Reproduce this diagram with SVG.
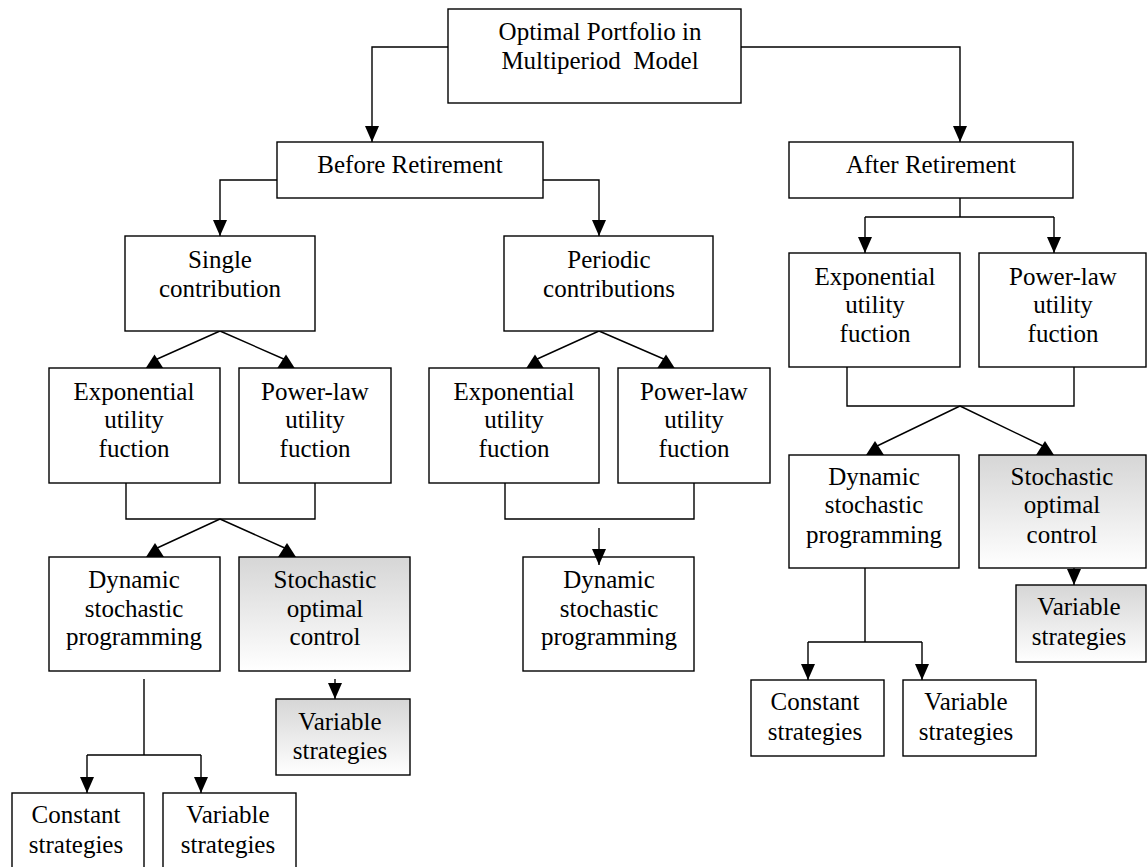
<svg xmlns="http://www.w3.org/2000/svg" width="1147" height="867" viewBox="0 0 1147 867">
<defs>
<linearGradient id="g" x1="0" y1="0" x2="0" y2="1">
<stop offset="0" stop-color="#d6d6d6"/>
<stop offset="1" stop-color="#ffffff"/>
</linearGradient>
<marker id="arr" markerUnits="userSpaceOnUse" markerWidth="17" markerHeight="16" refX="16" refY="8" orient="auto" overflow="visible">
<path d="M0,1 L16,8 L0,15 z" fill="#000"/>
</marker>
<style>
.b{fill:#fff;stroke:#000;stroke-width:1.4}
.gr{fill:url(#g);stroke:#000;stroke-width:1.4}
.c{fill:none;stroke:#000;stroke-width:1.4}
.a{marker-end:url(#arr)}
.ah{fill:#000;stroke:none}
text{font-family:'Liberation Serif','Times New Roman',Tinos,'DejaVu Serif',serif;font-size:25px;fill:#000;text-anchor:middle}
</style>
</defs>
<rect width="1147" height="867" fill="#fff"/>

<g id="connectors">
<path class="c a" d="M448,47 H372 V142"/>
<path class="c a" d="M741,47 H960 V142"/>
<path class="c a" d="M277,180 H220 V236"/>
<path class="c a" d="M543,180 H599 V236"/>
<path class="c" d="M960,198 V217 M865,217 H1054"/>
<path class="c a" d="M865,217 V253"/>
<path class="c a" d="M1054,217 V253"/>
<path class="c" d="M847,367 V406 H1074 V367"/>
<path class="c" d="M960,406 L875,447 M960,406 L1045,447"/>
<polygon class="ah" points="875,441 866,455 884,455"/>
<polygon class="ah" points="1045,441 1036,455 1054,455"/>
<path class="c a" d="M1074,568 V585"/>
<path class="c" d="M865,568 V642 M808,642 H922"/>
<path class="c a" d="M808,642 V680"/>
<path class="c a" d="M922,642 V680"/>
<path class="c" d="M220,331 L155,360 M220,331 L286,360"/>
<polygon class="ah" points="154.5,354.5 145.5,368.5 163.5,368.5"/>
<polygon class="ah" points="286,354.5 277,368.5 295,368.5"/>
<path class="c" d="M126,483 V519 H315 V483"/>
<path class="c" d="M220,519 L155,549 M220,519 L287,549"/>
<polygon class="ah" points="155,543 146,557 164,557"/>
<polygon class="ah" points="287,543 278,557 296,557"/>
<path class="c a" d="M335,679 V699"/>
<path class="c" d="M144,679 V755 M87,755 H201"/>
<path class="c a" d="M87,755 V793"/>
<path class="c a" d="M201,755 V793"/>
<path class="c" d="M599,331 L535,360 M599,331 L666,360"/>
<polygon class="ah" points="535,354.5 526,368.5 544,368.5"/>
<polygon class="ah" points="666,354.5 657,368.5 675,368.5"/>
<path class="c" d="M505,483 V519 H694 V483"/>
</g>

<g id="n-top"><rect class="b" x="448" y="9" width="293" height="94"/>
<text x="600" y="40">Optimal Portfolio in</text>
<text x="600" y="69" xml:space="preserve">Multiperiod  Model</text></g>

<g id="n-before"><rect class="b" x="277" y="142" width="266" height="56"/>
<text x="410" y="173">Before Retirement</text></g>

<g id="n-after"><rect class="b" x="789" y="142" width="284" height="56"/>
<text x="931" y="173">After Retirement</text></g>

<g id="n-single"><rect class="b" x="125" y="236" width="190" height="95"/>
<text x="220" y="268">Single</text><text x="220" y="297">contribution</text></g>

<g id="n-periodic"><rect class="b" x="504" y="236" width="209" height="95"/>
<text x="609" y="268">Periodic</text><text x="609" y="297">contributions</text></g>

<g id="n-exp-l"><rect class="b" x="49" y="368" width="171" height="115"/>
<text x="134" y="400">Exponential</text><text x="134" y="428">utility</text><text x="134" y="457">fuction</text></g>

<g id="n-pow-l"><rect class="b" x="239" y="368" width="152" height="115"/>
<text x="315" y="400">Power-law</text><text x="315" y="428">utility</text><text x="315" y="457">fuction</text></g>

<g id="n-exp-m"><rect class="b" x="429" y="368" width="170" height="115"/>
<text x="514" y="400">Exponential</text><text x="514" y="428">utility</text><text x="514" y="457">fuction</text></g>

<g id="n-pow-m"><rect class="b" x="618" y="368" width="152" height="115"/>
<text x="694" y="400">Power-law</text><text x="694" y="428">utility</text><text x="694" y="457">fuction</text></g>

<g id="n-exp-r"><rect class="b" x="789" y="253" width="171" height="114"/>
<text x="875" y="285">Exponential</text><text x="875" y="313">utility</text><text x="875" y="342">fuction</text></g>

<g id="n-pow-r"><rect class="b" x="979" y="253" width="167" height="114"/>
<text x="1063" y="285">Power-law</text><text x="1063" y="313">utility</text><text x="1063" y="342">fuction</text></g>

<g id="n-dyn-l"><rect class="b" x="49" y="557" width="171" height="114"/>
<text x="134" y="588">Dynamic</text><text x="134" y="617">stochastic</text><text x="134" y="645">programming</text></g>

<g id="n-sto-l"><rect class="gr" x="239" y="557" width="171" height="114"/>
<text x="325" y="588">Stochastic</text><text x="325" y="617">optimal</text><text x="325" y="645">control</text></g>

<g id="n-dyn-m"><rect class="b" x="523" y="557" width="171" height="114"/>
<text x="609" y="588">Dynamic</text><text x="609" y="617">stochastic</text><text x="609" y="645">programming</text></g>
<path class="c a" d="M599,528 V565"/>

<g id="n-dyn-r"><rect class="b" x="789" y="455" width="170" height="113"/>
<text x="874" y="485">Dynamic</text><text x="874" y="513">stochastic</text><text x="874" y="543">programming</text></g>

<g id="n-sto-r"><rect class="gr" x="979" y="455" width="167" height="113"/>
<text x="1062" y="485">Stochastic</text><text x="1062" y="513">optimal</text><text x="1062" y="543">control</text></g>

<g id="n-var-r1"><rect class="gr" x="1016" y="585" width="130" height="77"/>
<text x="1079" y="615">Variable</text><text x="1079" y="645">strategies</text></g>

<g id="n-const-r"><rect class="b" x="751" y="680" width="133" height="76"/>
<text x="815" y="710">Constant</text><text x="815" y="740">strategies</text></g>

<g id="n-var-r2"><rect class="b" x="903" y="680" width="133" height="76"/>
<text x="966" y="710">Variable</text><text x="966" y="740">strategies</text></g>

<g id="n-var-l1"><rect class="gr" x="276" y="699" width="134" height="76"/>
<text x="340" y="730">Variable</text><text x="340" y="759">strategies</text></g>

<g id="n-const-l"><rect class="b" x="12" y="793" width="132" height="100"/>
<text x="76" y="823">Constant</text><text x="76" y="853">strategies</text></g>

<g id="n-var-l2"><rect class="b" x="163" y="793" width="133" height="100"/>
<text x="228" y="823">Variable</text><text x="228" y="853">strategies</text></g>
</svg>
